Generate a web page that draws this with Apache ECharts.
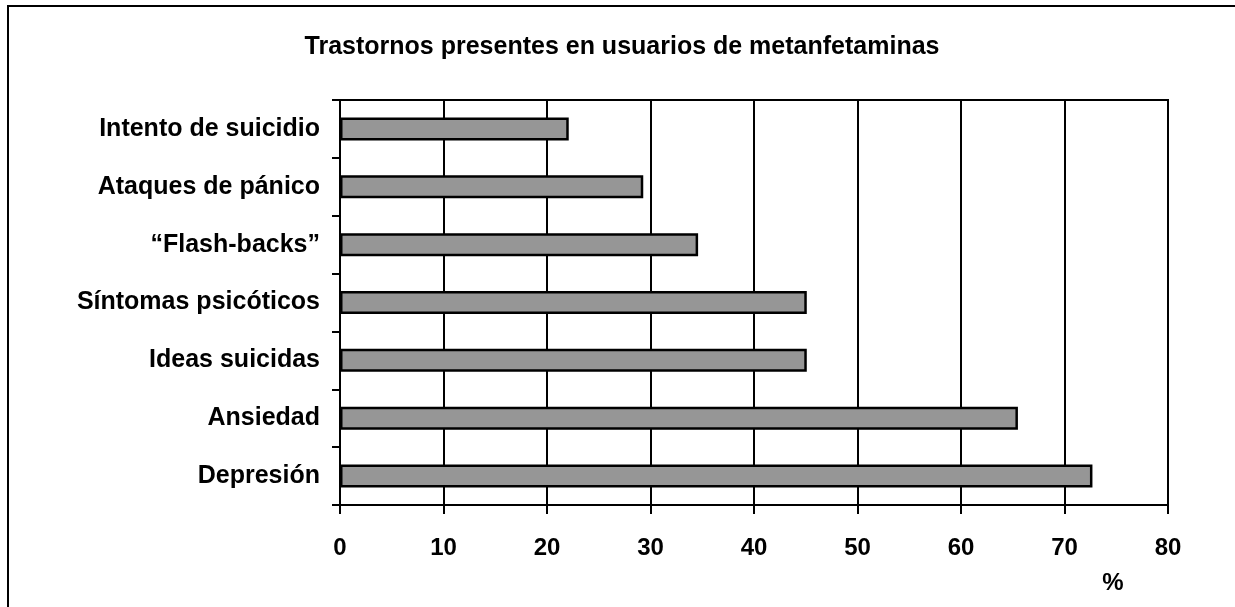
<!DOCTYPE html>
<html>
<head>
<meta charset="utf-8">
<script src="https://cdn.jsdelivr.net/npm/echarts@6/dist/echarts.min.js"></script>
<style>
html,body{margin:0;padding:0;background:#fff;}
#main{width:1235px;height:607px;}
</style>
</head>
<body>
<div id="main"></div>
<script>
const titleText = 'Trastornos presentes en usuarios de metanfetaminas';
const categories = ['Depresión', 'Ansiedad', 'Ideas suicidas', 'Síntomas psicóticos', '“Flash-backs”', 'Ataques de pánico', 'Intento de suicidio'];
const values = [72.7, 65.5, 45.1, 45.1, 34.6, 29.3, 22.1];
const xTicks = [0, 10, 20, 30, 40, 50, 60, 70, 80];
const unitLabel = '%';

const FONT = '"Liberation Sans", Arial, sans-serif';
const chart = echarts.init(document.getElementById('main'), null, {renderer: 'canvas'});
chart.setOption({
  animation: false,
  backgroundColor: '#fff',
  grid: {left: 340, right: 67, top: 100, bottom: 102, show: true, borderColor: '#000', borderWidth: 2, backgroundColor: 'transparent'},
  xAxis: {
    type: 'value',
    min: xTicks[0],
    max: xTicks[xTicks.length - 1],
    interval: 10,
    axisLine: {show: true, lineStyle: {color: '#000', width: 2}},
    axisTick: {show: true, length: 9, inside: false, lineStyle: {color: '#000', width: 2}},
    splitLine: {show: true, lineStyle: {color: '#000', width: 2}},
    axisLabel: {color: '#000', fontSize: 24, fontWeight: 'bold', fontFamily: FONT, margin: 31}
  },
  yAxis: {
    type: 'category',
    data: categories,
    axisLine: {show: true, lineStyle: {color: '#000', width: 2}},
    axisTick: {show: true, length: 8, lineStyle: {color: '#000', width: 2}},
    axisLabel: {color: '#000', fontSize: 25, fontWeight: 'bold', fontFamily: FONT, margin: 20}
  },
  series: [{
    type: 'bar',
    data: values,
    barWidth: 23,
    itemStyle: {color: '#969696', borderColor: '#000', borderWidth: 2.5}
  }],
  graphic: [
    {type: 'rect', shape: {x: 8, y: 6, width: 1400, height: 800}, style: {fill: 'none', stroke: '#000', lineWidth: 2}, silent: true},
    {type: 'text', x: 622, y: 47, style: {text: titleText, fill: '#000', font: 'bold 25px ' + FONT, textAlign: 'center', textVerticalAlign: 'middle'}},
    {type: 'text', x: 1113, y: 583, style: {text: unitLabel, fill: '#000', font: 'bold 24px ' + FONT, textAlign: 'center', textVerticalAlign: 'middle'}}
  ]
});
</script>
</body>
</html>
